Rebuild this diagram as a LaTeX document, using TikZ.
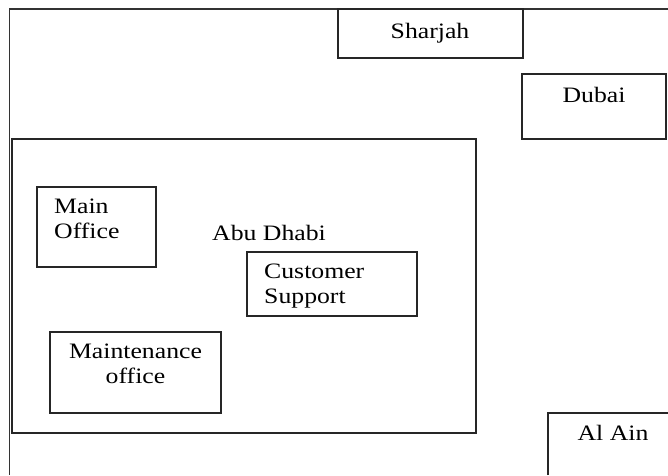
\documentclass[tikz,border=0pt]{standalone}
\usepackage{fontspec}
\setmainfont{Liberation Serif}[FakeStretch=1.17]
\begin{document}
\begin{tikzpicture}[x=1pt,y=-1pt,
  box/.style={draw=black!85,line width=1.3pt,rectangle,inner sep=0pt},
  lbl/.style={inner sep=0pt,font=\fontsize{22}{25}\selectfont,text=black}]
\useasboundingbox (0,0) rectangle (668,475);
% outer frame (partly cut off)
\coordinate (ftop) at (668,8.7);
\coordinate (fcorner) at (9.5,8.7);
\coordinate (fbottom) at (9.5,475);
\draw[draw=black!80,line width=1.6pt] (ftop) -- (fcorner) -- (fbottom);
% boxes
\node[box,minimum width=185,minimum height=49] (sharjahbox) at (430.5,33.5) {};
\node[box,minimum width=144,minimum height=65] (dubaibox) at (594,106.5) {};
\node[box,minimum width=464,minimum height=294] (abubox) at (244,286) {};
\node[box,minimum width=119,minimum height=80] (mainbox) at (96.5,227) {};
\node[box,minimum width=170,minimum height=64] (custbox) at (332,284) {};
\node[box,minimum width=171,minimum height=81] (maintbox) at (135.5,372.5) {};
% Al Ain box, cut off at the right and bottom
\coordinate (alainbl) at (548,475);
\coordinate (alaintl) at (548,413);
\coordinate (alaintr) at (668,413);
\draw[draw=black!85,line width=1.3pt] (alainbl) -- (alaintl) -- (alaintr);
% labels
\node[lbl,anchor=base] (sharjah) at (430,38) {Sharjah};
\node[lbl,anchor=base] (dubai) at (594,102) {Dubai};
\node[lbl,anchor=base] (alain) at (613,440) {Al Ain};
\node[lbl,anchor=base] (abudhabi) at (269,240) {Abu Dhabi};
\node[lbl,anchor=base west,align=left] (mainoffice) at (54,238) {Main\\Office};
\node[lbl,anchor=base west,align=left] (custsupport) at (264,303) {Customer\\Support};
\node[lbl,anchor=base,align=center] (maintoffice) at (135.5,383) {Maintenance\\office};
\end{tikzpicture}
\end{document}
